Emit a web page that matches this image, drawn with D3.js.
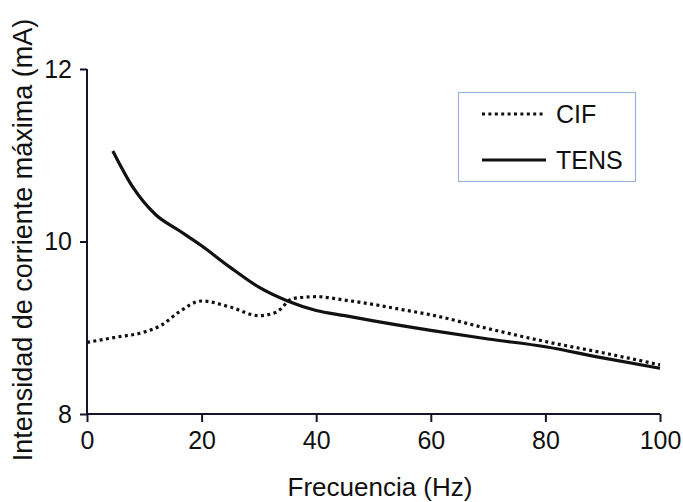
<!DOCTYPE html>
<html>
<head>
<meta charset="utf-8">
<script src="https://cdn.jsdelivr.net/npm/d3@7/dist/d3.min.js"></script>
<style>
  html, body { margin: 0; padding: 0; background: #fff; }
  svg { display: block; }
  text { font-family: "Liberation Sans", Arial, Helvetica, sans-serif; fill: #111; }
</style>
</head>
<body>
<svg id="chart" width="683" height="502"></svg>
<script>
// ---- data ----
const xTicks = [0, 20, 40, 60, 80, 100];
const yTicks = [8, 10, 12];

const tensFreq = [4.5, 8, 12, 16, 20, 25, 30, 35, 40, 45, 50, 60, 70, 80, 90, 100];
const tensValues = [11.05, 10.63, 10.31, 10.13, 9.95, 9.70, 9.47, 9.31, 9.20, 9.14, 9.08, 8.97, 8.87, 8.78, 8.65, 8.53];

const cifFreq = [0, 5, 10, 13, 16, 20, 25, 30, 33, 36, 40, 45, 50, 55, 60, 70, 80, 90, 100];
const cifValues = [8.83, 8.89, 8.95, 9.03, 9.18, 9.31, 9.24, 9.14, 9.18, 9.34, 9.36, 9.32, 9.27, 9.21, 9.15, 8.99, 8.84, 8.71, 8.57];

const seriesNames = ["CIF", "TENS"];
const xTitle = "Frecuencia (Hz)";
const yTitle = "Intensidad de corriente máxima (mA)";

// ---- layout ----
const svg = d3.select("#chart");
const x = d3.scaleLinear().domain([0, 100]).range([87, 660]);
const y = d3.scaleLinear().domain([8, 12]).range([414, 69]);

const axisColor = "#15152a";

// x axis
const gx = svg.append("g")
  .attr("transform", `translate(0,${y(8)})`)
  .call(d3.axisBottom(x).tickValues(xTicks).tickSize(8).tickPadding(9).tickFormat(d3.format("d")));
// y axis
const gy = svg.append("g")
  .attr("transform", `translate(${x(0)},0)`)
  .call(d3.axisLeft(y).tickValues(yTicks).tickSize(7).tickPadding(8).tickFormat(d3.format("d")));

[gx, gy].forEach(g => {
  g.select(".domain").attr("stroke", axisColor).attr("stroke-width", 2);
  g.selectAll(".tick line").attr("stroke", axisColor).attr("stroke-width", 2);
  g.selectAll(".tick text").attr("fill", "#111")
    .style("font-family", '"Liberation Sans", Arial, sans-serif')
    .style("font-size", "25px");
});
gx.select(".domain").attr("d", `M${x(0)},0H${x(100)}`);
gy.select(".domain").attr("d", `M0,${y(8)}V${y(12)}`);

// lines
const line = d3.line().curve(d3.curveMonotoneX);

svg.append("path")
  .attr("d", line(cifFreq.map((f, i) => [x(f), y(cifValues[i])])))
  .attr("fill", "none")
  .attr("stroke", "#111")
  .attr("stroke-width", 3.2)
  .attr("stroke-dasharray", "3,3.4");

svg.append("path")
  .attr("d", line(tensFreq.map((f, i) => [x(f), y(tensValues[i])])))
  .attr("fill", "none")
  .attr("stroke", "#111")
  .attr("stroke-width", 3.2);

// axis titles
svg.append("text")
  .attr("x", 380).attr("y", 496)
  .attr("text-anchor", "middle")
  .style("font-size", "26px")
  .text(xTitle);

svg.append("text")
  .attr("transform", "translate(32,240) rotate(-90)")
  .attr("text-anchor", "middle")
  .style("font-size", "27px")
  .text(yTitle);

// legend
const lg = svg.append("g");
lg.append("rect")
  .attr("x", 458.5).attr("y", 92.5).attr("width", 177).attr("height", 89)
  .attr("fill", "#fff").attr("stroke", "#9db6d6").attr("stroke-width", 1.2);

const legendRows = [
  { name: seriesNames[0], dash: "3,3.4", yy: 114 },
  { name: seriesNames[1], dash: null, yy: 160 }
];
legendRows.forEach(r => {
  lg.append("line")
    .attr("x1", 482).attr("x2", 546).attr("y1", r.yy).attr("y2", r.yy)
    .attr("stroke", "#111").attr("stroke-width", 3)
    .attr("stroke-dasharray", r.dash);
  lg.append("text")
    .attr("x", 556).attr("y", r.yy)
    .attr("dy", "0.35em")
    .style("font-size", "25px")
    .text(r.name);
});
</script>
</body>
</html>
